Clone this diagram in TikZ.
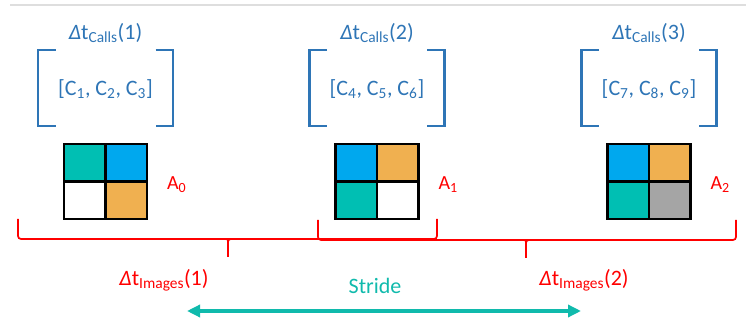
\documentclass[tikz,border=0pt]{standalone}
\usepackage{fontspec}
\setmainfont{Carlito}
\usetikzlibrary{arrows.meta}
\definecolor{callblue}{RGB}{46,117,182}
\definecolor{cteal}{RGB}{0,191,179}
\definecolor{cblue}{RGB}{0,168,238}
\definecolor{corange}{RGB}{240,176,80}
\definecolor{cgray}{RGB}{165,165,165}
\definecolor{strideteal}{RGB}{16,186,172}
\tikzset{
  cell/.style={draw=black,line width=2.6pt,minimum width=41.5pt,minimum height=37.5pt,inner sep=0pt},
  callbracket/.style={callblue,line width=2.4pt},
  imgbrace/.style={red,line width=1.7pt,rounded corners=3pt},
  bigtext/.style={font=\fontsize{22}{26}\selectfont}
}

\begin{document}
\begin{tikzpicture}[x=1pt,y=-1pt]
    \useasboundingbox (0,0) rectangle (746,328);
    \draw[black!13,line width=1.2pt] (10,5) -- (746,5);
    % time windows of the calls
    \foreach \i/\n/\x/\a/\b/\c/\tl/\tr/\bl/\br in {1/0/105.5/1/2/3/cteal/cblue/white/corange,
        2/1/377/4/5/6/cblue/corange/cteal/white, 3/2/649/7/8/9/cblue/corange/cteal/cgray}{
      \node[callblue,bigtext] (calls\i) at (\x,33) {\textit{Δ}t\textsubscript{Calls}(\i)};
      \node[callblue,bigtext] (set\i) at (\x,89) {[C\textsubscript{\a}, C\textsubscript{\b}, C\textsubscript{\c}]};
      \draw[callbracket] (\x-50,50) -- (\x-67.5,50) -- (\x-67.5,126) -- (\x-50,126);
      \draw[callbracket] (\x+50,50) -- (\x+67.5,50) -- (\x+67.5,126) -- (\x+50,126);
      \node[cell,fill=\tl] (g\i-tl) at (\x-20.75,162.75) {};
      \node[cell,fill=\tr] (g\i-tr) at (\x+20.75,162.75) {};
      \node[cell,fill=\bl] (g\i-bl) at (\x-20.75,200.25) {};
      \node[cell,fill=\br] (g\i-br) at (\x+20.75,200.25) {};
      \node[red,anchor=west,font=\fontsize{20}{24}\selectfont] (img\i) at (\x+58,185) {A\textsubscript{\n}};
    }
    % image windows
    \foreach \l/\m/\r/\y in {18/228/437/239, 318/526/736/240}{
      \draw[imgbrace] (\l,\y-20) |- (\r,\y) -- (\r,\y-20);
      \draw[imgbrace] (\m-6,\y) .. controls (\m,\y) .. (\m,\y+6) -- (\m,\y+18);
      \draw[imgbrace] (\m+6,\y) .. controls (\m,\y) .. (\m,\y+6);
    }
    \node[red,bigtext] (win1) at (164,280) {\textit{Δ}t\textsubscript{Images}(1)};
    \node[red,bigtext] (win2) at (584,280) {\textit{Δ}t\textsubscript{Images}(2)};
    % stride
    \node[strideteal,bigtext] (stride) at (375,286) {Stride};
    \coordinate (sl) at (187,311);
    \coordinate (sr) at (581,311);
    \draw[strideteal,line width=3.5pt,{Triangle[length=13pt,width=12pt]}-{Triangle[length=13pt,width=12pt]}] (sl) -- (sr);
  \end{tikzpicture}
\end{document}
